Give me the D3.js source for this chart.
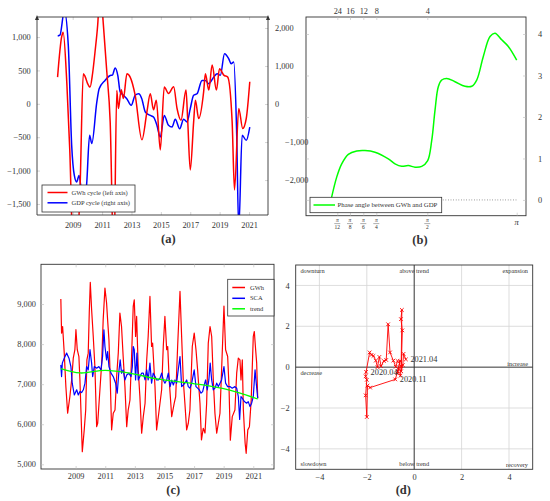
<!DOCTYPE html>
<html>
<head>
<meta charset="utf-8">
<script src="https://cdn.jsdelivr.net/npm/d3@7"></script>
<style>
    body { margin: 0; background: #fff; }
    svg text { font-family: "Liberation Serif", "Times New Roman", serif; fill: #333; }
</style>
</head>
<body>
<svg width="550" height="501"></svg>
<script>
    // (a) cycles
    let gwhCycleYears = [2007.97, 2008.25, 2008.35, 2008.6, 2008.8, 2009.1, 2009.5, 2009.72, 2009.84, 2010.0, 2010.18, 2010.35,
        2010.52, 2010.7, 2010.87, 2011.09, 2011.32, 2011.55, 2011.8, 2012.0, 2012.11, 2012.3, 2012.45, 2012.69, 2012.91,
        2013.25, 2013.71, 2014.05, 2014.28, 2014.5, 2014.69, 2014.96, 2015.23, 2015.52, 2015.87, 2016.1, 2016.37, 2016.71,
        2016.82, 2017.0, 2017.23, 2017.35, 2017.57, 2017.91, 2018.03, 2018.26, 2018.49, 2018.78, 2018.99, 2019.28, 2019.55,
        2019.85, 2020.01, 2020.3, 2020.57, 2020.81, 2021.05]
    let gwhCycleValues = [400, 1005, 1070, 310, -690, -2700, -1260, 450, 410, 310, 250, 450,
        780, 1180, 1750, 1175, 480, -270, -2400, 200, -70, 210, 80, 450, 400,
        130, -540, -120, 150, -90, 55, -690, 250, 155, 255, -70, -245, 205,
        -220, -990, -270, 55, -220, 180, 450, 205, 580, 205, 525, 430, 400,
        -270, -1290, -70, -370, -220, 330]

    let gdpCycleYears = [2007.98, 2008.13, 2008.43, 2008.7, 2008.93, 2009.11, 2009.27, 2009.43, 2009.6, 2009.8, 2009.95, 2010.15,
        2010.3, 2010.64, 2010.8, 2011.2, 2011.55, 2011.7, 2011.89, 2012.07, 2012.23, 2012.45, 2012.68, 2012.98, 2013.25,
        2013.49, 2013.7, 2013.94, 2014.28, 2014.5, 2014.73, 2014.96, 2015.23, 2015.52, 2015.76, 2015.98, 2016.28, 2016.55,
        2016.78, 2017.0, 2017.23, 2017.46, 2017.8, 2018.03, 2018.26, 2018.6, 2018.83, 2019.05, 2019.33, 2019.62, 2019.78,
        2019.96, 2020.15, 2020.3, 2020.53, 2020.81, 2021.05]
    let gdpCycleValues = [1790, 1810, 2450, 1540, -1090, -1880, -2050, -1880, -2300, -2600, -2100, -820,
        -1040, 50, 400, 620, 750, 760, 950, 750, 320, 230, 140, -35, 230,
        270, 140, -210, -300, -340, -560, -870, -300, -560, -605, -400, -650, -400,
        -470, -120, 230, 270, 620, 620, 535, 710, 800, 755, 1325, 1190, 1060,
        1105, -650, -3300, -820, -955, -605]

    let aYearTicks = [2009, 2011, 2013, 2015, 2017, 2019, 2021]
    let aLeftTicks = [-1500, -1000, -500, 0, 500, 1000]
    let aRightTicks = [-2000, -1000, 0, 1000, 2000]

    // (b) phase angle
    let phaseFreq = [0.197, 0.2556, 0.3072, 0.3752, 0.4587, 0.5578, 0.759, 0.9703, 1.0735, 1.1768, 1.2785, 1.3817,
        1.4849, 1.5778, 1.6481, 1.7061, 1.7641, 1.8239, 1.9117, 2.0576, 2.2333, 2.3511, 2.4389, 2.5549, 2.6727,
        2.7606, 2.8783, 2.9943, 3.1416]
    let phaseAngle = [0.0, 0.55, 0.87, 1.10, 1.18, 1.19, 1.15, 0.99, 0.87, 0.81, 0.83, 0.79,
        0.81, 0.95, 1.43, 2.16, 2.73, 2.89, 2.93, 2.85, 2.74, 2.74, 2.89, 3.46, 3.94,
        4.02, 3.86, 3.70, 3.37]
    let periodTicks = [24, 16, 12, 8, 4]
    let fracDenoms = [12, 8, 6, 4, 2]
    let bRightTicks = [0, 1, 2, 3, 4]

    // (c) monthly consumption
    let gwhYears = [2008.0, 2008.05, 2008.12, 2008.23, 2008.34, 2008.46, 2008.61, 2008.73, 2008.84, 2008.95, 2009.02, 2009.11,
        2009.22, 2009.29, 2009.4, 2009.45, 2009.58, 2009.68, 2009.76, 2009.85, 2009.92, 2009.99, 2010.08, 2010.19, 2010.3,
        2010.42, 2010.49, 2010.64, 2010.76, 2010.86, 2010.98, 2011.09, 2011.16, 2011.25, 2011.32, 2011.43, 2011.54, 2011.66,
        2011.77, 2011.88, 2011.99, 2012.1, 2012.21, 2012.33, 2012.45, 2012.55, 2012.67, 2012.78, 2012.89, 2012.96, 2013.05,
        2013.12, 2013.23, 2013.34, 2013.46, 2013.57, 2013.69, 2013.8, 2013.9, 2014.02, 2014.13, 2014.2, 2014.36, 2014.47,
        2014.6, 2014.81, 2014.92, 2015.03, 2015.15, 2015.22, 2015.32, 2015.49, 2015.66, 2015.76, 2015.89, 2016.05, 2016.16,
        2016.27, 2016.38, 2016.5, 2016.61, 2016.72, 2016.88, 2017.01, 2017.13, 2017.24, 2017.4, 2017.5, 2017.62, 2017.74,
        2017.85, 2017.96, 2018.08, 2018.19, 2018.3, 2018.41, 2018.53, 2018.64, 2018.75, 2018.86, 2019.02, 2019.13, 2019.27,
        2019.36, 2019.45, 2019.58, 2019.76, 2019.88, 2019.99, 2020.1, 2020.17, 2020.26, 2020.33, 2020.45, 2020.52, 2020.63,
        2020.74, 2020.86, 2021.0, 2021.07, 2021.16, 2021.23, 2021.3]
    let gwhValues = [9125, 8275, 8440, 7775, 6940, 6275, 6690, 7105, 7650, 7860, 8360, 7860,
        7690, 7105, 5860, 5315, 5860, 6355, 7605, 7775, 8775, 9540, 8860, 8190, 7440,
        5940, 6025, 6860, 7525, 8605, 9400, 9025, 8605, 8105, 7355, 5860, 6275, 6355,
        7190, 7775, 8775, 8440, 7690, 6940, 5940, 6355, 6605, 7690, 8940, 9105, 8190,
        8690, 7355, 6690, 5775, 6190, 6525, 7605, 8190, 9190, 7940, 8025, 6940, 5860,
        6230, 6860, 7940, 8690, 7860, 7940, 7105, 6190, 6525, 6690, 7940, 9315, 8190,
        7105, 6525, 5860, 6025, 6355, 7940, 8275, 7860, 7355, 6525, 5610, 5900, 5780,
        6525, 8025, 8440, 8190, 7105, 6275, 5775, 6025, 6275, 7355, 8950, 7860, 7690,
        6940, 5600, 6190, 6355, 7275, 7650, 7605, 7105, 7605, 6355, 5525, 5275, 5860,
        5940, 6605, 8190, 8315, 7860, 7525, 6650]

    let scaYears = [2008.0, 2008.05, 2008.1, 2008.23, 2008.39, 2008.55, 2008.68, 2008.77, 2008.91, 2009.07, 2009.18, 2009.29,
        2009.4, 2009.52, 2009.63, 2009.74, 2009.85, 2009.97, 2010.08, 2010.15, 2010.26, 2010.42, 2010.57, 2010.71, 2010.82,
        2010.91, 2010.98, 2011.09, 2011.16, 2011.25, 2011.39, 2011.54, 2011.7, 2011.81, 2011.93, 2012.01, 2012.1, 2012.21,
        2012.33, 2012.45, 2012.6, 2012.74, 2012.83, 2012.89, 2012.96, 2013.05, 2013.14, 2013.23, 2013.34, 2013.46, 2013.57,
        2013.69, 2013.8, 2013.9, 2014.02, 2014.13, 2014.24, 2014.36, 2014.47, 2014.58, 2014.7, 2014.81, 2014.92, 2015.03,
        2015.15, 2015.26, 2015.38, 2015.49, 2015.6, 2015.71, 2015.82, 2015.93, 2016.05, 2016.16, 2016.27, 2016.38, 2016.5,
        2016.61, 2016.72, 2016.84, 2017.01, 2017.13, 2017.24, 2017.35, 2017.47, 2017.58, 2017.69, 2017.78, 2017.89, 2018.0,
        2018.09, 2018.19, 2018.3, 2018.41, 2018.53, 2018.64, 2018.75, 2018.86, 2019.02, 2019.13, 2019.27, 2019.42, 2019.58,
        2019.76, 2019.88, 2019.99, 2020.08, 2020.17, 2020.26, 2020.4, 2020.55, 2020.66, 2020.78, 2020.89, 2021.0, 2021.12,
        2021.18, 2021.3]
    let scaValues = [7482, 7190, 7525, 7650, 7775, 7650, 7440, 7025, 6730, 6860, 6730, 6815,
        6790, 6860, 7025, 7440, 7355, 7860, 7525, 7190, 7440, 7400, 7440, 7355, 7690,
        8357, 7940, 7605, 7815, 7440, 7275, 7190, 7025, 6775, 7355, 7605, 7275, 7355,
        7105, 7230, 7275, 7190, 7440, 7940, 7860, 7105, 7775, 7105, 7190, 7275, 7275,
        7105, 7355, 7105, 7525, 7025, 7275, 7190, 7105, 7105, 7150, 7275, 7105, 7025,
        7105, 7275, 6940, 7100, 6980, 7105, 7025, 7355, 7690, 6940, 6980, 7025, 7105,
        6940, 6900, 7025, 7355, 6940, 6900, 6860, 6775, 6815, 6980, 7105, 6860, 7105,
        7525, 7105, 6860, 6900, 7025, 6940, 7025, 7105, 7440, 7025, 6940, 6940, 6900,
        6940, 6900, 6690, 6120, 6690, 6650, 6565, 6525, 6565, 6440, 6525, 6690, 7357,
        7105, 6650]

    let trendYears = [2008.0, 2009.3, 2011.0, 2012.8, 2014.5, 2016.6, 2018.0, 2019.0, 2020.0, 2021.3]
    let trendValues = [7390, 7280, 7345, 7265, 7130, 7030, 6960, 6890, 6790, 6630]

    let cYearTicks = [2009, 2011, 2013, 2015, 2017, 2019, 2021]
    let cValueTicks = [5000, 6000, 7000, 8000, 9000]

    // (d) business cycle clock
    let clockX = [-0.70, -0.78, -0.88, -1.02, -1.10, -1.18, -1.28, -1.40, -1.47, -1.55, -1.62, -1.72, -1.80, -1.88,
        -2.03, -2.05, -2.00, -2.05, -2.00, -1.97, -1.86, -0.80, -0.72, -0.66, -0.60, -0.70, -0.58, -0.55, -0.52,
        -0.56, -0.50, -0.55, -0.48, -0.45, -0.35]
    let clockY = [0.30, 0.02, 0.32, 0.72, 2.10, 0.35, 0.30, 0.05, 0.50, 0.00, 0.32, 0.55, 0.60, 0.72,
        -0.23, -0.45, -0.62, -1.38, -2.44, -0.90, -1.00, -0.60, -0.30, -0.10, 0.30, -0.20, -0.42, 0.05, 2.80,
        2.35, 1.80, -0.20, 0.10, 0.65, 0.38]
    let clockLabelIndex = [14, 21, 34]
    let clockLabelText = ["2020.04", "2020.11", "2021.04"]
    let dTicks = [-4, -2, 0, 2, 4]

    let svg = d3.select("svg")
    let tickFont = 8.3
    let fmt = d3.format(",")

    svg.append("rect").attr("width", 550).attr("height", 501).attr("fill", "white")

    function styleAxis(g) {
        g.select(".domain").remove()
        g.selectAll(".tick line").attr("stroke", "#bbb").attr("stroke-width", 0.6)
        g.selectAll(".tick text").style("font-size", tickFont + "px").attr("fill", "#333")
        return g
    }

    function clipFor(id, x0, x1, y0, y1) {
        svg.append("clipPath").attr("id", id)
            .append("rect").attr("x", x0).attr("y", y0).attr("width", x1 - x0).attr("height", y1 - y0)
        return "url(#" + id + ")"
    }

    function legend(x0, y0, w, h, items, fontSize, lineX0, lineX1, textX, rowY) {
        let lg = svg.append("g")
        lg.append("rect").attr("x", x0).attr("y", y0).attr("width", w).attr("height", h)
            .attr("fill", "white").attr("stroke", "#333").attr("stroke-width", 0.8)
        items.forEach(function (it, i) {
            lg.append("line").attr("x1", lineX0).attr("x2", lineX1).attr("y1", rowY[i]).attr("y2", rowY[i])
                .attr("stroke", it.color).attr("stroke-width", 1.5)
            lg.append("text").attr("x", textX).attr("y", rowY[i]).attr("dy", "0.33em")
                .style("font-size", fontSize + "px").text(it.label)
        })
    }

    // ---------------- (a) ----------------
    let aBox = { left: 37, right: 268, top: 17, bottom: 215 }
    let ax = d3.scaleLinear().domain([2006.57, 2022.29]).range([aBox.left, aBox.right])
    let ayL = d3.scaleLinear().domain([-1665, 1300]).range([aBox.bottom, aBox.top])
    let ayR = d3.scaleLinear().domain([-2920, 2290]).range([aBox.bottom, aBox.top])

    styleAxis(svg.append("g").attr("transform", `translate(0, ${aBox.bottom})`)
        .call(d3.axisBottom(ax).tickValues(aYearTicks).tickFormat(d3.format("d")).tickSize(-3).tickPadding(7)))
    styleAxis(svg.append("g").attr("transform", `translate(0, ${aBox.top})`)
        .call(d3.axisTop(ax).tickValues(aYearTicks).tickFormat("").tickSize(-3)))
    styleAxis(svg.append("g").attr("transform", `translate(${aBox.left}, 0)`)
        .call(d3.axisLeft(ayL).tickValues(aLeftTicks).tickFormat(fmt).tickSize(-3).tickPadding(6.3)))
    let aRight = styleAxis(svg.append("g").attr("transform", `translate(${aBox.right}, 0)`)
        .call(d3.axisRight(ayR).tickValues(aRightTicks).tickFormat(fmt).tickSize(-3).tickPadding(7)))
    aRight.selectAll(".tick text").attr("x", d => d < 0 ? 17 : 7)

    let aClip = clipFor("clipA", aBox.left, aBox.right, aBox.top, aBox.bottom)
    let aLineL = d3.line().x(d => ax(d[0])).y(d => ayL(d[1])).curve(d3.curveMonotoneX)
    let aLineR = d3.line().x(d => ax(d[0])).y(d => ayR(d[1])).curve(d3.curveMonotoneX)

    svg.append("path")
        .attr("d", aLineR(d3.zip(gdpCycleYears, gdpCycleValues)))
        .attr("clip-path", aClip)
        .attr("fill", "none").attr("stroke", "#0000ff").attr("stroke-width", 1.5)
    svg.append("path")
        .attr("d", aLineL(d3.zip(gwhCycleYears, gwhCycleValues)))
        .attr("clip-path", aClip)
        .attr("fill", "none").attr("stroke", "#ff0000").attr("stroke-width", 1.5)

    // frame: left/right axis lines with arrows, top and bottom lines
    svg.append("path")
        .attr("d", `M${aBox.left},${aBox.top} L${aBox.right},${aBox.top} M${aBox.left},${aBox.bottom} L${aBox.right},${aBox.bottom}`)
        .attr("stroke", "#333").attr("stroke-width", 0.9)
    ;[aBox.left, aBox.right].forEach(function (xx) {
        svg.append("line").attr("x1", xx).attr("x2", xx).attr("y1", aBox.bottom).attr("y2", aBox.top)
            .attr("stroke", "#333").attr("stroke-width", 0.9)
        svg.append("path").attr("d", `M${xx - 2},${aBox.top + 3} L${xx},${aBox.top - 2} L${xx + 2},${aBox.top + 3} Z`)
            .attr("fill", "#333")
    })

    legend(42, 185, 93, 27, [{ label: "GWh cycle (left axis)", color: "#ff0000" }, { label: "GDP cycle (right axis)", color: "#0000ff" }],
        6.5, 47.5, 67.5, 71.5, [192.5, 202.8])

    // ---------------- (b) ----------------
    let bBox = { left: 306, right: 526, top: 17, bottom: 215.7 }
    let freqTicks = fracDenoms.map(d => Math.PI / d).concat([Math.PI])
    let bx = d3.scaleLinear().domain(freqTicks).range([337.3, 350, 363.3, 376.3, 427.3, 516.7])
    let by = d3.scaleLinear().domain([-0.38, 4.41]).range([bBox.bottom, bBox.top])

    svg.append("rect").attr("x", bBox.left).attr("y", bBox.top)
        .attr("width", bBox.right - bBox.left).attr("height", bBox.bottom - bBox.top)
        .attr("fill", "none").attr("stroke", "#333").attr("stroke-width", 0.9)

    styleAxis(svg.append("g").attr("transform", `translate(0, ${bBox.top})`)
        .call(d3.axisTop(bx).tickValues(periodTicks.map(p => 2 * Math.PI / p))
            .tickFormat(f => Math.round(2 * Math.PI / f)).tickSize(-3).tickPadding(3.5)))
    styleAxis(svg.append("g").attr("transform", `translate(0, ${bBox.bottom})`)
        .call(d3.axisBottom(bx).tickValues(freqTicks).tickFormat("").tickSize(-3)))
    styleAxis(svg.append("g").attr("transform", `translate(${bBox.right}, 0)`)
        .call(d3.axisRight(by).tickValues(bRightTicks).tickFormat(d3.format("d")).tickSize(-3).tickPadding(12)))
    styleAxis(svg.append("g").attr("transform", `translate(${bBox.left}, 0)`)
        .call(d3.axisLeft(by).tickValues(bRightTicks).tickFormat("").tickSize(-3)))

    // fraction tick labels pi/n
    fracDenoms.forEach(function (den) {
        let xx = bx(Math.PI / den)
        svg.append("text").attr("x", xx).attr("y", 222.3).attr("text-anchor", "middle")
            .style("font-size", "5.5px").style("font-style", "italic").text("π")
        svg.append("line").attr("x1", xx - 3).attr("x2", xx + 3).attr("y1", 223.6).attr("y2", 223.6)
            .attr("stroke", "#333").attr("stroke-width", 0.4)
        svg.append("text").attr("x", xx).attr("y", 229).attr("text-anchor", "middle")
            .style("font-size", "5.5px").text(den)
    })
    svg.append("text").attr("x", bx(Math.PI)).attr("y", 225).attr("text-anchor", "middle")
        .style("font-size", "8.5px").style("font-style", "italic").text("π")

    svg.append("line")
        .attr("x1", bx(phaseFreq[0])).attr("x2", bx(Math.PI)).attr("y1", by(0)).attr("y2", by(0))
        .attr("stroke", "#333").attr("stroke-width", 0.6).attr("stroke-dasharray", "0.8,1.8")

    let bClip = clipFor("clipB", bBox.left, bBox.right, bBox.top, bBox.bottom)
    svg.append("path")
        .attr("d", d3.line().x(d => bx(d[0])).y(d => by(d[1])).curve(d3.curveCatmullRom)(d3.zip(phaseFreq, phaseAngle)))
        .attr("clip-path", bClip)
        .attr("fill", "none").attr("stroke", "#00ff00").attr("stroke-width", 1.5)

    legend(310, 197.3, 131.7, 15.4, [{ label: "Phase angle between GWh and GDP", color: "#00ff00" }],
        6.8, 313.5, 335, 337.5, [205])

    // ---------------- (c) ----------------
    let cBox = { left: 41, right: 274, top: 264.3, bottom: 469 }
    let cx = d3.scaleLinear().domain([2006.66, 2022.4]).range([cBox.left, cBox.right])
    let cy = d3.scaleLinear().domain([4883, 9992]).range([cBox.bottom, cBox.top])

    svg.append("rect").attr("x", cBox.left).attr("y", cBox.top)
        .attr("width", cBox.right - cBox.left).attr("height", cBox.bottom - cBox.top)
        .attr("fill", "none").attr("stroke", "#333").attr("stroke-width", 0.9)

    styleAxis(svg.append("g").attr("transform", `translate(0, ${cBox.bottom})`)
        .call(d3.axisBottom(cx).tickValues(cYearTicks).tickFormat(d3.format("d")).tickSize(-3).tickPadding(4.5)))
    styleAxis(svg.append("g").attr("transform", `translate(0, ${cBox.top})`)
        .call(d3.axisTop(cx).tickValues(cYearTicks).tickFormat("").tickSize(-3)))
    styleAxis(svg.append("g").attr("transform", `translate(${cBox.left}, 0)`)
        .call(d3.axisLeft(cy).tickValues(cValueTicks).tickFormat(fmt).tickSize(-3).tickPadding(5)))
    styleAxis(svg.append("g").attr("transform", `translate(${cBox.right}, 0)`)
        .call(d3.axisRight(cy).tickValues(cValueTicks).tickFormat("").tickSize(-3)))

    let cClip = clipFor("clipC", cBox.left, cBox.right, cBox.top, cBox.bottom)
    let cLine = d3.line().x(d => cx(d[0])).y(d => cy(d[1]))

    svg.append("path").attr("d", cLine(d3.zip(gwhYears, gwhValues))).attr("clip-path", cClip)
        .attr("fill", "none").attr("stroke", "#ff0000").attr("stroke-width", 1.2).attr("stroke-linejoin", "round")
    svg.append("path").attr("d", cLine(d3.zip(scaYears, scaValues))).attr("clip-path", cClip)
        .attr("fill", "none").attr("stroke", "#0000ff").attr("stroke-width", 1.2).attr("stroke-linejoin", "round")
    svg.append("path").attr("d", cLine.curve(d3.curveCatmullRom)(d3.zip(trendYears, trendValues))).attr("clip-path", cClip)
        .attr("fill", "none").attr("stroke", "#00ff00").attr("stroke-width", 1.3)

    legend(227.7, 279.3, 46.3, 36.7,
        [{ label: "GWh", color: "#ff0000" }, { label: "SCA", color: "#0000ff" }, { label: "trend", color: "#00ff00" }],
        6.5, 232.3, 245, 250, [287.5, 298.3, 308.8])

    // ---------------- (d) ----------------
    let dBox = { left: 295.7, right: 532.7, top: 265, bottom: 469.3 }
    let dx = d3.scaleLinear().domain([-5, 5]).range([dBox.left, dBox.right])
    let dy = d3.scaleLinear().domain([-5, 5]).range([dBox.bottom, dBox.top])

    dTicks.filter(t => t != 0).forEach(function (t) {
        svg.append("line").attr("x1", dx(t)).attr("x2", dx(t)).attr("y1", dBox.top).attr("y2", dBox.bottom)
            .attr("stroke", "#d4d4d4").attr("stroke-width", 0.8)
        svg.append("line").attr("x1", dBox.left).attr("x2", dBox.right).attr("y1", dy(t)).attr("y2", dy(t))
            .attr("stroke", "#d4d4d4").attr("stroke-width", 0.8)
    })
    svg.append("line").attr("x1", dx(0)).attr("x2", dx(0)).attr("y1", dBox.top).attr("y2", dBox.bottom)
        .attr("stroke", "#333").attr("stroke-width", 1)
    svg.append("line").attr("x1", dBox.left).attr("x2", dBox.right).attr("y1", dy(0)).attr("y2", dy(0))
        .attr("stroke", "#333").attr("stroke-width", 1)
    svg.append("rect").attr("x", dBox.left).attr("y", dBox.top)
        .attr("width", dBox.right - dBox.left).attr("height", dBox.bottom - dBox.top)
        .attr("fill", "none").attr("stroke", "#333").attr("stroke-width", 0.9)

    styleAxis(svg.append("g").attr("transform", `translate(0, ${dBox.bottom})`)
        .call(d3.axisBottom(dx).tickValues(dTicks).tickFormat(d3.format("d")).tickSize(0).tickPadding(4.5)))
    styleAxis(svg.append("g").attr("transform", `translate(${dBox.left}, 0)`)
        .call(d3.axisLeft(dy).tickValues(dTicks).tickFormat(d3.format("d")).tickSize(0).tickPadding(6)))

    let phaseNames = [
        { t: "downturn", x: -4.8, y: 4.7, a: "start" }, { t: "above trend", x: 0, y: 4.7, a: "middle" },
        { t: "expansion", x: 4.8, y: 4.7, a: "end" }, { t: "increase", x: 4.8, y: 0.15, a: "end" },
        { t: "decrease", x: -4.8, y: -0.3, a: "start" }, { t: "slowdown", x: -4.8, y: -4.75, a: "start" },
        { t: "below trend", x: 0, y: -4.75, a: "middle" }, { t: "recovery", x: 4.8, y: -4.8, a: "end" }]
    svg.append("g").selectAll("text").data(phaseNames).join("text")
        .attr("x", d => dx(d.x)).attr("y", d => dy(d.y)).attr("dy", "0.33em")
        .attr("text-anchor", d => d.a)
        .style("font-size", "6.3px").attr("fill", "#555").text(d => d.t)

    let clockPts = d3.zip(clockX, clockY)
    svg.append("path").attr("d", d3.line().x(d => dx(d[0])).y(d => dy(d[1]))(clockPts))
        .attr("fill", "none").attr("stroke", "#ff0000").attr("stroke-width", 0.9)
    svg.append("g").selectAll("path").data(clockPts).join("path")
        .attr("d", d => {
            let px = dx(d[0]), py = dy(d[1]), s = 1.8
            return `M${px - s},${py - s}L${px + s},${py + s}M${px - s},${py + s}L${px + s},${py - s}`
        })
        .attr("stroke", "#ff0000").attr("stroke-width", 0.9)
    svg.append("g").selectAll("text").data(clockLabelIndex).join("text")
        .attr("x", (d, i) => dx(clockX[d]) + 4.5)
        .attr("y", (d, i) => dy(clockY[d]) + 3)
        .style("font-size", "8.3px").attr("fill", "#222")
        .text((d, i) => clockLabelText[i])

    // ---------------- captions ----------------
    let captions = [{ t: "(a)", x: 168.3, y: 238.3 }, { t: "(b)", x: 420, y: 240 }, { t: "(c)", x: 173.3, y: 489.3 }, { t: "(d)", x: 403.3, y: 489.3 }]
    svg.append("g").selectAll("text").data(captions).join("text")
        .attr("x", d => d.x).attr("y", d => d.y).attr("dy", "0.35em").attr("text-anchor", "middle")
        .style("font-size", "12.5px").style("font-weight", "bold").attr("fill", "#111").text(d => d.t)
</script>
</body>
</html>
